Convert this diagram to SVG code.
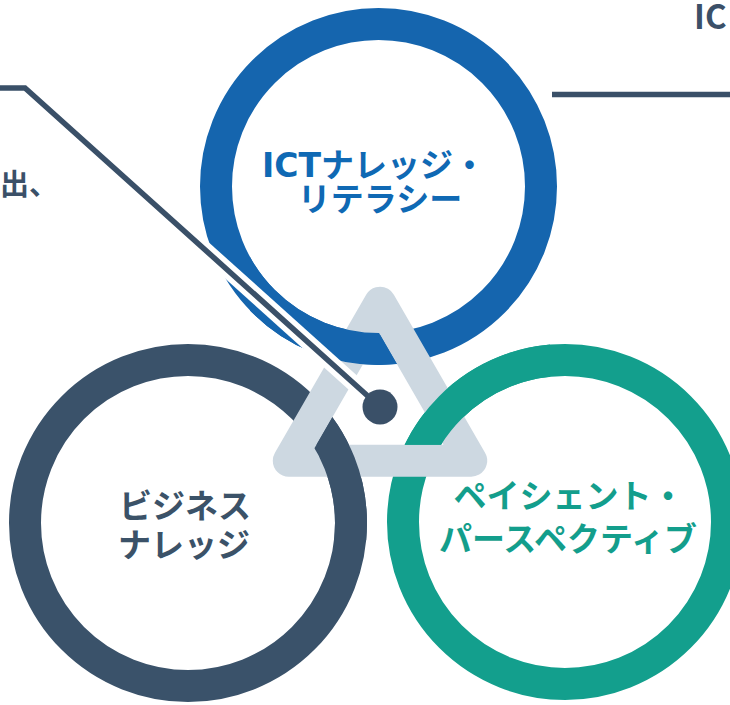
<svg xmlns="http://www.w3.org/2000/svg" width="730" height="705" viewBox="0 0 730 705">
  <style>
    .ring { fill: none; stroke-width: 32; }
    .blue { stroke: #1565ae; }
    .dark { stroke: #3a526a; }
    .teal { stroke: #139f8d; }
    .tri { fill: none; stroke: #cdd8e1; stroke-width: 32; stroke-linejoin: round; }
    .lbl { font-family: "Noto Sans CJK JP", "Noto Sans", sans-serif; font-weight: 700; font-size: 33px; text-anchor: middle; }
    .lat { font-family: "DejaVu Sans", "Noto Sans CJK JP", sans-serif; }
    .halo { fill: none; stroke: #ffffff; stroke-width: 16; stroke-linejoin: miter; }
    .lead { fill: none; stroke: #3a5068; stroke-width: 5.5; stroke-linejoin: miter; }
    .side { font-family: "Noto Sans CJK JP", "Noto Sans", sans-serif; font-weight: 700; fill: #3b5068; }
  </style>
  <defs>
    <clipPath id="clipBlue"><polygon points="250,250 331.2,250 417.7,400 250,400"/></clipPath>
    <clipPath id="clipDark"><polygon points="353.8,380 430,380 430,540 261.5,540"/></clipPath>
    <clipPath id="clipTeal"><rect x="380" y="300" width="170" height="144.7"/></clipPath>
  </defs>

  <!-- side texts -->
  <text class="side" x="0" y="195" font-size="29">出、</text>
  <text class="side" x="694" y="29" font-size="33" font-family="DejaVu Sans, sans-serif">IC</text>

  <!-- rings -->
  <g id="ring-ict">
    <circle class="ring blue" cx="378.5" cy="186.5" r="162.5"/>
  </g>
  <g id="ring-business">
    <circle class="ring dark" cx="188" cy="523" r="163"/>
  </g>
  <g id="ring-patient">
    <circle class="ring teal" cx="565" cy="522" r="162"/>
  </g>

  <!-- interlocking triangle -->
  <g id="triangle">
    <path class="tri" d="M380,302.7 L471.2,460.7 L288.8,460.7 Z"/>
    <circle class="ring blue" cx="378.5" cy="186.5" r="162.5" clip-path="url(#clipBlue)"/>
    <circle class="ring dark" cx="188" cy="523" r="163" clip-path="url(#clipDark)"/>
    <circle class="ring teal" cx="565" cy="522" r="162" clip-path="url(#clipTeal)"/>
  </g>

  <!-- labels -->
  <g id="label-ict" fill="#0f69b4">
    <text class="lbl"><tspan x="374" y="177"><tspan class="lat">ICT</tspan>ナレッジ・</tspan><tspan x="380" y="211">リテラシー</tspan></text>
  </g>
  <g id="label-business" fill="#3b5268">
    <text class="lbl"><tspan x="185" y="518">ビジネス</tspan><tspan x="184" y="557">ナレッジ</tspan></text>
  </g>
  <g id="label-patient" fill="#139e8c">
    <text class="lbl"><tspan x="569" y="508">ペイシェント・</tspan><tspan x="568" y="551">パースペクティブ</tspan></text>
  </g>

  <!-- connectors -->
  <g id="connectors">
    <path class="halo" d="M25,88 L380,407"/>
    <path class="lead" d="M0,88 L25,88 L380,407"/>
    <circle cx="380" cy="407" r="17.5" fill="#3a5068"/>
    <line class="lead" x1="552" y1="94.5" x2="730" y2="94.5"/>
  </g>
</svg>
